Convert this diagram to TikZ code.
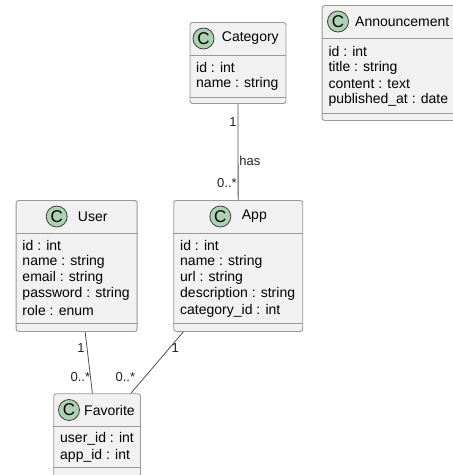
\documentclass[tikz,border=0pt]{standalone}
\usepackage{fontspec}
\setmainfont{Liberation Sans}

\definecolor{boxfill}{HTML}{F1F1F1}
\definecolor{boxline}{HTML}{999999}
\definecolor{spotfill}{HTML}{ADD1B2}
\definecolor{edgeline}{HTML}{505050}
\definecolor{labeltext}{HTML}{222222}

\begin{document}
\begin{tikzpicture}[x=1pt,y=-1pt,
  classbox/.style={draw=boxline,fill=boxfill,rounded corners=2.5pt,line width=0.9pt,inner sep=0pt,anchor=north west},
  spot/.style={circle,draw=black!75,fill=spotfill,line width=0.8pt,minimum size=21pt,inner sep=0pt,font=\fontsize{17}{17}\selectfont},
  title/.style={anchor=west,inner sep=0pt,font=\fontsize{14}{14}\selectfont},
  field/.style={anchor=west,inner sep=0pt,font=\fontsize{14}{14}\selectfont},
  mult/.style={inner sep=1pt,text=labeltext,font=\fontsize{13}{13}\selectfont},
  link/.style={draw=edgeline,line width=0.8pt}]

  \useasboundingbox (0,0) rectangle (453,475);

  % class boxes
  \node[classbox,minimum width=96pt,minimum height=81pt] (category) at (189.5,22) {};
  \node[classbox,minimum width=140pt,minimum height=115pt] (announcement) at (321.7,5) {};
  \node[classbox,minimum width=121pt,minimum height=131pt] (user) at (15.7,200) {};
  \node[classbox,minimum width=129pt,minimum height=131pt] (app) at (173.3,200) {};
  \node[classbox,minimum width=86.7pt,minimum height=95pt] (favorite) at (53.3,393.3) {};

  % separators
  \foreach \n/\a/\b in {category/33/75, announcement/33/108, user/33/123, app/33/123, favorite/33.5/74} {
    \draw[boxline,line width=0.9pt] ([yshift=-\a pt]\n.north west) -- ([yshift=-\a pt]\n.north east);
    \draw[boxline,line width=0.9pt] ([yshift=-\b pt]\n.north west) -- ([yshift=-\b pt]\n.north east);
  }

  % headers
  \node[spot] (category-c) at (203.5,38.5) {C};
  \node[title] (category-t) at (221.7,38.5) {Category};
  \node[spot] (announcement-c) at (338,21.5) {C};
  \node[title] (announcement-t) at (355,21.5) {Announcement};
  \node[spot] (user-c) at (56.7,216.5) {C};
  \node[title] (user-t) at (77.7,216.5) {User};
  \node[spot] (app-c) at (220.3,216.5) {C};
  \node[title] (app-t) at (241.7,216.5) {App};
  \node[spot] (favorite-c) at (69,410) {C};
  \node[title] (favorite-t) at (84,410) {Favorite};

  % fields
  \foreach[count=\i] \f in {id : int, name : string} {
    \node[field] (category-f\i) at (196,51+16.4*\i) {\f};
  }
  \foreach[count=\i] \f in {id : int, title : string, content : text, published\_at : date} {
    \node[field] (announcement-f\i) at (328.3,34.6+16.4*\i) {\f};
  }
  \foreach[count=\i] \f in {id : int, name : string, email : string, password : string, role : enum} {
    \node[field] (user-f\i) at (22.3,228.6+16.4*\i) {\f};
  }
  \foreach[count=\i] \f in {id : int, name : string, url : string, description : string, category\_id : int} {
    \node[field] (app-f\i) at (180,228.6+16.4*\i) {\f};
  }
  \foreach[count=\i] \f in {user\_id : int, app\_id : int} {
    \node[field] (favorite-f\i) at (60,422.8+16.4*\i) {\f};
  }

  % relations
  \draw[link] (category) --
    node[mult,pos=0.185,anchor=east] (has-1) {1}
    node[mult,pos=0.59,anchor=west] (has-t) {has}
    node[mult,pos=0.82,anchor=east] (has-n) {0..*} (app);
  \draw[link] ([xshift=8.5pt]user.south) --
    node[mult,pos=0.26,anchor=east,inner sep=2pt] (uf-1) {1}
    node[mult,pos=0.74,anchor=east,inner sep=0pt] (uf-n) {0..*} ([xshift=-4.7pt]favorite.north);
  \draw[link] ([xshift=10pt]app.south west) --
    node[mult,pos=0.26,anchor=west,inner sep=1.5pt] (af-1) {1}
    node[mult,pos=0.74,anchor=east,xshift=-8pt] (af-n) {0..*} ([xshift=-10pt]favorite.north east);
\end{tikzpicture}
\end{document}
